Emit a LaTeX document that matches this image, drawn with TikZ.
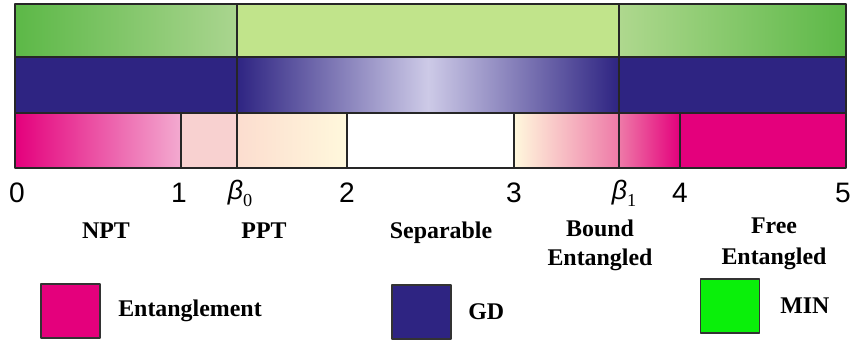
\documentclass[tikz,border=0pt]{standalone}
\usepackage{fontspec}
\setmainfont{Liberation Serif}
\newfontfamily\axisfont{Liberation Sans}

\definecolor{mingreen}{HTML}{5CB847}
\definecolor{minmid}{HTML}{AAD58F}
\definecolor{minpale}{HTML}{C1E48B}
\definecolor{minkey}{HTML}{0AF00A}
\definecolor{gdblue}{HTML}{2E2482}
\definecolor{gdlight}{HTML}{CDCAE7}
\definecolor{entpink}{HTML}{E4007C}
\definecolor{pinkfade}{HTML}{F3AAD0}
\definecolor{pinkflat}{HTML}{F8D1D0}
\definecolor{peach}{HTML}{FCDDCF}
\definecolor{cream}{HTML}{FFF8DC}
\definecolor{pinkmid}{HTML}{EE7AA8}

\begin{document}
\begin{tikzpicture}[
	x=0.025cm, y=-0.025cm,
	line join=round,
	line cap=round,
	band/.style={draw=black!85, line width=0.8pt},
	numlbl/.style={font=\axisfont\fontsize{20}{22}\selectfont, anchor=base, inner sep=0pt},
	betalbl/.style={font=\axisfont\itshape\fontsize{19}{22}\selectfont, anchor=base, inner sep=0pt},
	regionlbl/.style={font=\bfseries\fontsize{17}{20}\selectfont, align=center, anchor=base, inner sep=0pt},
	keybox/.style={draw=black!80, line width=0.8pt, minimum width=1.475cm, minimum height=1.35cm, inner sep=0pt},
	keylbl/.style={font=\bfseries\fontsize{17}{20}\selectfont, anchor=base west, inner sep=0pt}
	]
	
	% Khung
	\useasboundingbox (0,0) rectangle (850,341);
	
	% Hang tren (MIN)
	\shade[left color=mingreen, right color=minmid] (15,4) rectangle (237,57);
	\fill[minpale] (237,4) rectangle (619,57);
	\shade[left color=minmid!80!minpale, right color=mingreen] (619,4) rectangle (846,57);
	
	% Hang giua (GD)
	\fill[gdblue] (15,57) rectangle (237,113);
	\shade[left color=gdblue, right color=gdblue, middle color=gdlight] (237,57) rectangle (619,113);
	\fill[gdblue] (619,57) rectangle (846,113);
	
	% Hang duoi (Entanglement)
	\foreach \xa/\xb/\cl/\cr in {
		15/181/entpink/pinkfade,
		181/237/pinkflat/pinkflat,
		237/347/peach/cream,
		347/514/white/white,
		514/619/cream/pinkmid,
		619/680/pinkmid/entpink,
		680/846/entpink/entpink}{
		\shade[left color=\cl, right color=\cr] (\xa,113) rectangle (\xb,168);
	}
	
	% Vien
	\foreach \ya/\yb in {4/57, 57/113, 113/168}{
		\draw[band] (15,\ya) rectangle (846,\yb);
	}
	\foreach \x in {237,619}{
		\draw[band] (\x,4) -- (\x,168);
	}
	\foreach \x in {181,347,514,680}{
		\draw[band] (\x,113) -- (\x,168);
	}
	
	% Moc truc
	\foreach \x/\t/\n in {17/0/t0, 179/1/t1, 347/2/t2, 514/3/t3, 680/4/t4, 843/5/t5}{
		\node[numlbl] (\n) at (\x,202) {\t};
	}
	\node[betalbl] (beta0) at (240,199) {β\raisebox{-5.5pt}{\rmfamily\upshape\fontsize{13}{13}\selectfont 0}};
	\node[betalbl] (beta1) at (624,199) {β\raisebox{-5.5pt}{\rmfamily\upshape\fontsize{13}{13}\selectfont 1}};
	
	% Vung
	\node[regionlbl] (npt) at (106,238) {NPT};
	\node[regionlbl] (ppt) at (264,238) {PPT};
	\node[regionlbl] (sep) at (441,238) {Separable};
	\node[regionlbl] (bound) at (600,265) {Bound\\Entangled};
	\node[regionlbl, font=\bfseries\fontsize{17}{21.5}\selectfont] (free) at (774,264) {Free\\Entangled};
	
	% Chu thich
	\node[keybox, fill=entpink] (keyent) at (70.5,311) {};
	\node[keylbl] (lblent) at (118,316.7) {Entanglement};
	\node[keybox, fill=gdblue] (keygd) at (421.5,312) {};
	\node[keylbl] (lblgd) at (468,319) {GD};
	\node[keybox, fill=minkey] (keymin) at (730,306) {};
	\node[keylbl] (lblmin) at (780,313) {MIN};
	
\end{tikzpicture}
\end{document}
